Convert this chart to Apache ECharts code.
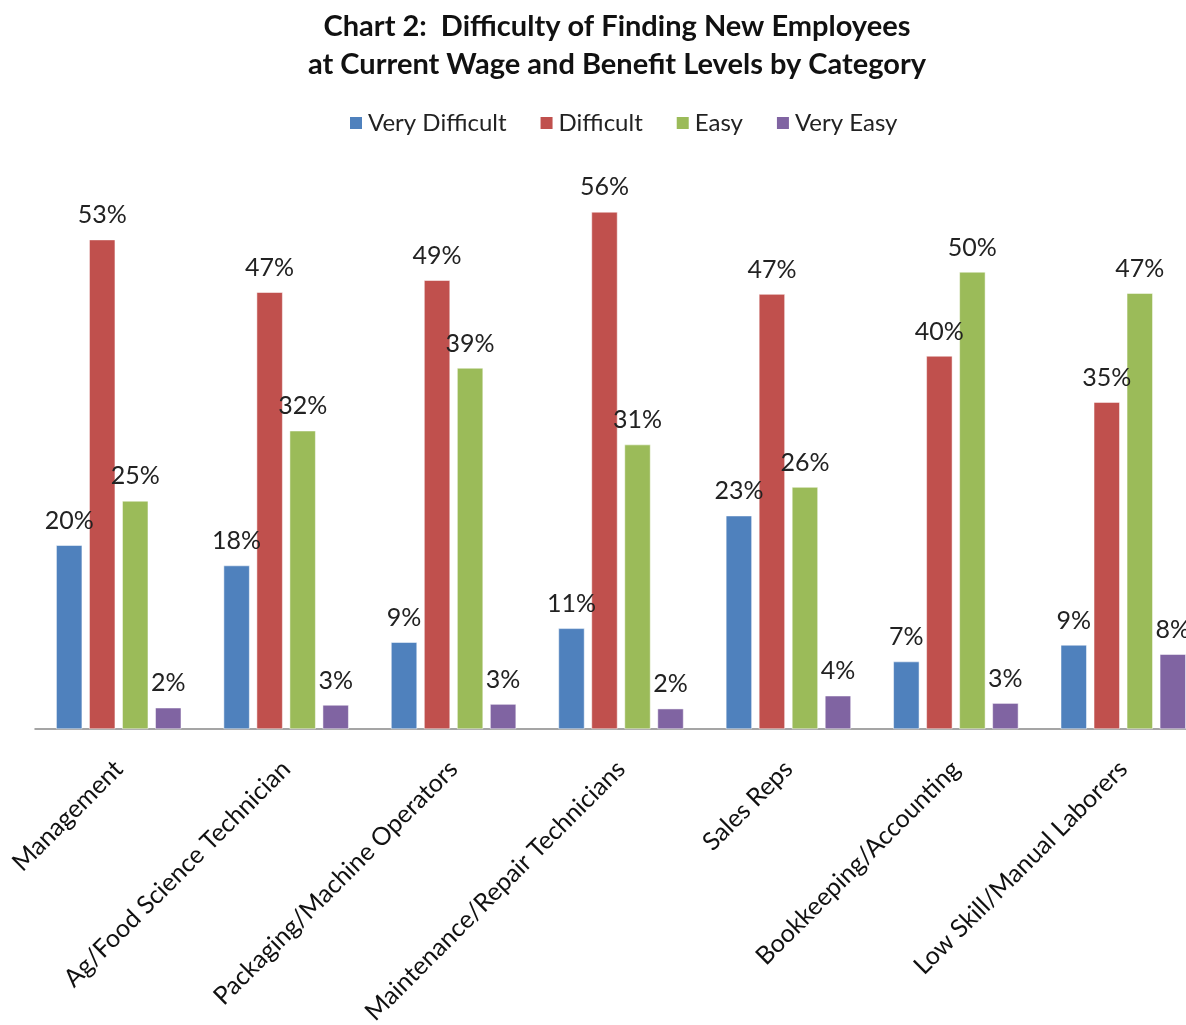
<!DOCTYPE html>
<html>
<head>
<meta charset="utf-8">
<script src="https://cdn.jsdelivr.net/npm/echarts@6/dist/echarts.min.js"></script>
<style>
html,body{margin:0;padding:0;background:#fff;}
#chart{width:1186px;height:1025px;}
</style>
</head>
<body>
<div id="chart"></div>
<script>
const categories = ["Management","Ag/Food Science Technician","Packaging/Machine Operators","Maintenance/Repair Technicians","Sales Reps","Bookkeeping/Accounting","Low Skill/Manual Laborers"];
const seriesNames = ["Very Difficult","Difficult","Easy","Very Easy"];
const veryDifficult = [19.9, 17.7, 9.4, 10.9, 23.1, 7.3, 9.1];
const difficult = [53.0, 47.3, 48.6, 56.0, 47.1, 40.4, 35.4];
const easy = [24.7, 32.3, 39.1, 30.8, 26.2, 49.5, 47.2];
const veryEasy = [2.3, 2.6, 2.7, 2.2, 3.6, 2.8, 8.1];
const colors = ["#4F81BD","#C0504D","#9BBB59","#8064A2"];
const FONT = "Lato";

const chart = echarts.init(document.getElementById('chart'));
const allData = [veryDifficult, difficult, easy, veryEasy];
chart.setOption({
  animation:false,
  color: colors,
  title:{
    text:"Chart 2:  Difficulty of Finding New Employees\nat Current Wage and Benefit Levels by Category",
    left:612, top:3, textAlign:'center',
    textStyle:{fontFamily:FONT,fontSize:29,fontWeight:'bold',color:'#111',lineHeight:38}
  },
  legend:{
    data:seriesNames, top:106, left:343,
    icon:'rect', itemWidth:14, itemHeight:14, itemGap:32,
    textStyle:{fontFamily:FONT,fontSize:24,color:'#222'}
  },
  grid:{left:35,width:1172,top:175,height:554,containLabel:false,outerBoundsMode:'none'},
  xAxis:{
    type:'category', data:categories,
    axisLine:{lineStyle:{color:'#888',width:1.5}},
    axisTick:{show:false},
    axisLabel:{rotate:45,interval:0,margin:36,fontFamily:FONT,fontSize:25,color:'#111'}
  },
  yAxis:{type:'value',min:0,max:60,show:false,splitLine:{show:false}},
  series: seriesNames.map((n,i)=>({
    name:n,type:'bar',data:allData[i],barWidth:26,barGap:'27%',
    itemStyle:{color:colors[i],borderColor:'#fff',borderWidth:0.5},
    label:{show:true,position:'top',distance:12,formatter:p=>Math.round(p.value)+'%',
      fontFamily:FONT,fontSize:25,color:'#222'}
  }))
});
</script>
</body>
</html>
